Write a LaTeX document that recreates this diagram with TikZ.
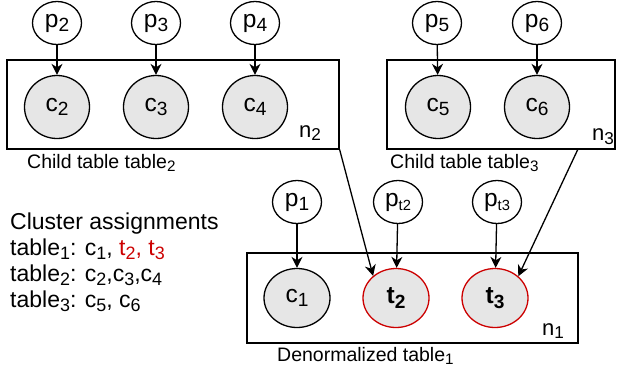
\documentclass[tikz,border=0pt]{standalone}
\usepackage{fontspec}
\setmainfont{Liberation Sans}
\usetikzlibrary{shapes.geometric,arrows.meta}
\definecolor{nodegray}{HTML}{E6E6E6}
\definecolor{redc}{HTML}{CC0000}
\newdimen\sbsdim
\newcommand\sbs[2][0.78]{\sbsdim=#1\fontdimen6\font\raisebox{-0.33ex}{\fontsize{\the\sbsdim}{\the\sbsdim}\selectfont #2}}
\tikzset{
  pnode/.style={ellipse, draw, line width=1.3pt, fill=white, minimum width=49pt, minimum height=43pt, inner sep=0pt, font=\fontsize{24.5}{24.5}\selectfont},
  cnode/.style={ellipse, draw, line width=1.3pt, fill=nodegray, minimum width=65pt, minimum height=63pt, inner sep=0pt, font=\fontsize{24.5}{24.5}\selectfont},
  cnodeb/.style={cnode, minimum width=66pt, minimum height=59pt},
  tnode/.style={cnodeb, draw=redc, font=\fontsize{24.5}{24.5}\selectfont\bfseries},
  plate/.style={draw, line width=1.3pt, inner sep=0pt},
  nlab/.style={font=\fontsize{22}{22}\selectfont, inner sep=0pt},
  caption/.style={font=\fontsize{19.5}{19.5}\selectfont, inner sep=0pt, anchor=base west},
  listtxt/.style={font=\fontsize{23}{23}\selectfont, inner sep=0pt, anchor=base west},
  arr/.style={-{Stealth[length=11pt,width=11pt,inset=3.5pt]}, line width=1.3pt},
}
\begin{document}
\begin{tikzpicture}[x=1pt,y=-1pt]
\useasboundingbox (0,0) rectangle (617,375);
% plates
\node[plate, minimum width=332pt, minimum height=89pt] (n2box) at (173,104.5) {};
\node[plate, minimum width=228pt, minimum height=89pt] (n3box) at (501,104.5) {};
\node[plate, minimum width=331pt, minimum height=90pt] (n1box) at (412.5,298) {};
% top-left table
\node[pnode] (p2) at (57,23) {p\sbs{2}};
\node[pnode] (p3) at (156,23) {p\sbs{3}};
\node[pnode] (p4) at (255,23) {p\sbs{4}};
\node[cnode] (c2) at (57,107) {c\sbs{2}};
\node[cnode] (c3) at (156,107) {c\sbs{3}};
\node[cnode] (c4) at (255,107) {c\sbs{4}};
\node[nlab] (n2) at (310,133) {n\sbs{2}};
\node[caption] (cap2) at (27,168) {Child table table\sbs{2}};
% top-right table
\node[pnode] (p5) at (437,23) {p\sbs{5}};
\node[pnode] (p6) at (537,23) {p\sbs{6}};
\node[cnode] (c5) at (438,107) {c\sbs{5}};
\node[cnode] (c6) at (537,107) {c\sbs{6}};
\node[nlab] (n3) at (603,137) {n\sbs{3}};
\node[caption] (cap3) at (390,168) {Child table table\sbs{3}};
% bottom table
\node[pnode] (p1) at (297,202) {p\sbs{1}};
\node[pnode] (pt2) at (398,202) {p\sbs[0.6]{t2}};
\node[pnode] (pt3) at (497,202) {p\sbs[0.6]{t3}};
\node[cnodeb] (c1) at (297,298) {c\sbs{1}};
\node[tnode] (t2) at (396,298) {t\sbs{2}};
\node[tnode] (t3) at (495,298) {t\sbs{3}};
\node[nlab] (n1) at (553,331) {n\sbs{1}};
\node[caption] (cap1) at (277,361) {Denormalized table\sbs{1}};
% cluster assignments
\node[listtxt] (l0) at (10,229) {Cluster assignments};
\node[listtxt] (l1) at (10,255) {table\sbs{1}: c\sbs{1}, \textcolor{redc}{t\sbs{2}, t\sbs{3}}};
\node[listtxt] (l2) at (10,281) {table\sbs{2}: c\sbs{2},c\sbs{3},c\sbs{4}};
\node[listtxt] (l3) at (10,307) {table\sbs{3}: c\sbs{5}, c\sbs{6}};
% arrows
\draw[arr] (p2) -- (c2);
\draw[arr] (p3) -- (c3);
\draw[arr] (p4) -- (c4);
\draw[arr] (p5) -- (c5);
\draw[arr] (p6) -- (c6);
\draw[arr] (p1) -- (c1);
\draw[arr] (pt2) -- (t2);
\draw[arr] (pt3) -- (t3);
\coordinate (n3out) at (578,149);
\draw[arr] (n2box.south east) -- (t2.136);
\draw[arr] (n3out) -- (t3.43);
\end{tikzpicture}
\end{document}
